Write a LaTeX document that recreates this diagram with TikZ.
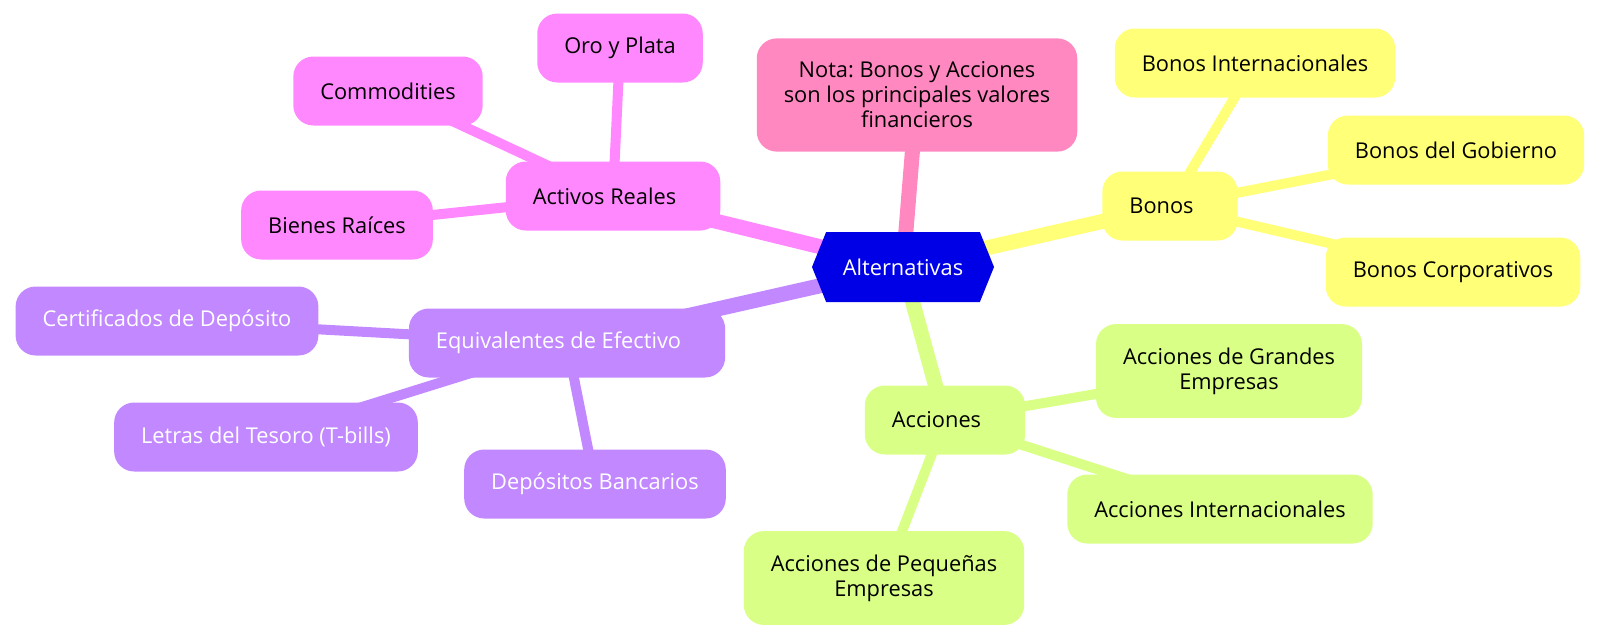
\documentclass[tikz,border=0pt]{standalone}
\usepackage{fontspec}
\setmainfont{Open Sans}
\frenchspacing
\usetikzlibrary{shapes.symbols,backgrounds}
\definecolor{rootblue}{HTML}{0000E6}
\definecolor{notepink}{HTML}{FF88C1}
\definecolor{bonosyellow}{HTML}{FFFF78}
\definecolor{accgreen}{HTML}{D9FF87}
\definecolor{realmagenta}{HTML}{FF88FF}
\definecolor{cashpurple}{HTML}{C288FF}
\tikzset{
  leaf/.style={rounded corners=20pt, inner xsep=27pt, inner ysep=23.5pt, minimum height=69pt, align=center, font=\fontsize{21.8}{25}\selectfont},
  branch/.style={rounded corners=20pt, inner xsep=27pt, inner ysep=21pt, minimum height=69pt, font=\fontsize{21.8}{25}\selectfont, execute at end node={\hspace*{17pt}}},
  link/.style={line width=15pt},
  twig/.style={line width=10pt},
}
\begin{document}
\begin{tikzpicture}[x=1pt,y=-1pt]
\useasboundingbox (0,0) rectangle (1600,640);
% centre
\node[signal, signal to=west and east, signal pointer angle=136, fill=rootblue, text=white, minimum width=182pt, minimum height=70pt, inner sep=0pt, font=\fontsize{21.8}{25}\selectfont] (alt) at (903,267) {Alternativas};
\node[leaf, fill=notepink] (nota) at (917,95) {Nota: Bonos y Acciones\\son los principales valores\\financieros};
% Bonos
\node[branch, fill=bonosyellow] (bonos) at (1170,206) {Bonos};
\node[leaf, fill=bonosyellow] (bint) at (1255,63) {Bonos Internacionales};
\node[leaf, fill=bonosyellow] (bgob) at (1456,150) {Bonos del Gobierno};
\node[leaf, fill=bonosyellow] (bcorp) at (1453,272) {Bonos Corporativos};
% Acciones
\node[branch, fill=accgreen] (acc) at (945,420) {Acciones};
\node[leaf, fill=accgreen] (agran) at (1229,371) {Acciones de Grandes\\Empresas};
\node[leaf, fill=accgreen] (aint) at (1220,509) {Acciones Internacionales};
\node[leaf, fill=accgreen] (apeq) at (884,578) {Acciones de Pequeñas\\Empresas};
% Activos Reales
\node[branch, fill=realmagenta] (real) at (613,196) {Activos Reales};
\node[leaf, fill=realmagenta] (oro) at (620,48) {Oro y Plata};
\node[leaf, fill=realmagenta] (comm) at (388,91) {Commodities};
\node[leaf, fill=realmagenta] (bien) at (337,225) {Bienes Raíces};
% Equivalentes de Efectivo
\node[branch, fill=cashpurple, text=white] (cash) at (567,343) {Equivalentes de Efectivo};
\node[leaf, fill=cashpurple, text=white] (cert) at (167,321) {Certificados de Depósito};
\node[leaf, fill=cashpurple, text=white] (letras) at (266,437) {Letras del Tesoro (T-bills)};
\node[leaf, fill=cashpurple, text=white] (depo) at (595,484) {Depósitos Bancarios};
\begin{pgfonlayer}{background}
\draw[link, notepink] (alt.center) -- (nota.center);
\draw[link, bonosyellow] (alt.center) -- (bonos.center);
\draw[link, accgreen] (alt.center) -- (acc.center);
\draw[link, realmagenta] (alt.center) -- (real.center);
\draw[link, cashpurple] (alt.center) -- (cash.center);
\draw[twig, bonosyellow] (bonos.center) -- (bint.center);
\draw[twig, bonosyellow] (bonos.center) -- (bgob.center);
\draw[twig, bonosyellow] (bonos.center) -- (bcorp.center);
\draw[twig, accgreen] (acc.center) -- (agran.center);
\draw[twig, accgreen] (acc.center) -- (aint.center);
\draw[twig, accgreen] (acc.center) -- (apeq.center);
\draw[twig, realmagenta] (real.center) -- (oro.center);
\draw[twig, realmagenta] (real.center) -- (comm.center);
\draw[twig, realmagenta] (real.center) -- (bien.center);
\draw[twig, cashpurple] (cash.center) -- (cert.center);
\draw[twig, cashpurple] (cash.center) -- (letras.center);
\draw[twig, cashpurple] (cash.center) -- (depo.center);
\end{pgfonlayer}
\end{tikzpicture}
\end{document}
